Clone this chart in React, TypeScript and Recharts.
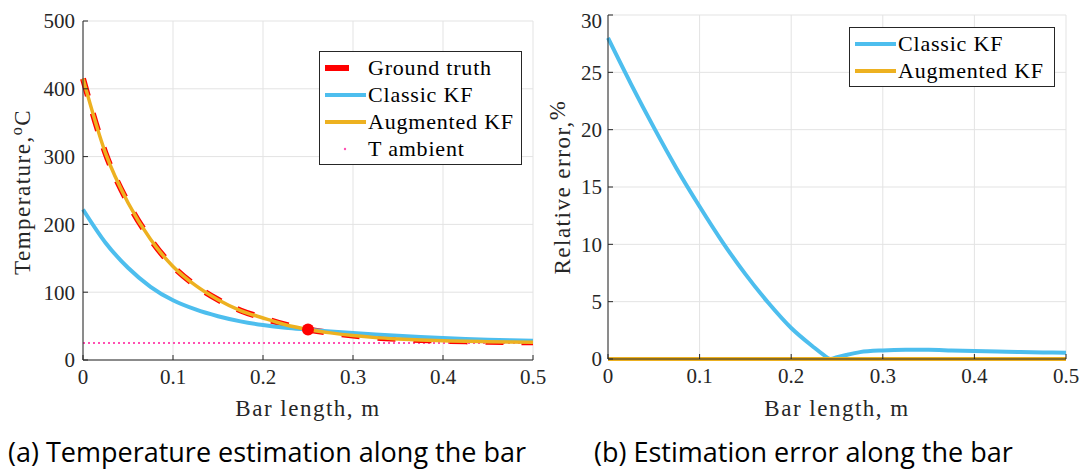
import { LineChart, Line, XAxis, YAxis, CartesianGrid, Legend, ReferenceLine, ReferenceDot } from "recharts";

// left panel: temperature along the bar
const barX = [0, 0.025, 0.05, 0.075, 0.1, 0.125, 0.15, 0.175, 0.2, 0.225, 0.25, 0.275, 0.3, 0.325, 0.35, 0.375, 0.4, 0.425, 0.45, 0.475, 0.5];
const groundTruth = [415, 305, 232, 178, 138, 110, 89, 73, 62, 52, 45, 40, 36, 33, 31, 29.5, 28.5, 27.5, 27, 26.5, 26];
const classicKF = [222, 173, 136, 108, 88, 74.5, 64.5, 57, 51.5, 47.5, 44.8, 42.2, 39.8, 37.6, 35.6, 33.9, 32.4, 31.1, 30, 29.1, 28.4];
const augmentedKF = [415, 305, 232, 178, 138, 110, 89, 73, 62, 52, 45, 40, 36, 33, 31, 29.5, 28.5, 27.5, 27, 26.5, 26];
const tAmbient = 25;
const sensorPoint = { x: 0.25, y: 45 };

// right panel: relative error
const errX = [0, 0.025, 0.05, 0.075, 0.1, 0.125, 0.15, 0.175, 0.2, 0.225, 0.235, 0.243, 0.25, 0.26, 0.275, 0.3, 0.325, 0.35, 0.375, 0.4, 0.425, 0.45, 0.475, 0.5];
const classicErr = [28, 24, 20.2, 16.6, 13.3, 10.2, 7.4, 4.9, 2.7, 1.0, 0.38, 0, 0.15, 0.35, 0.6, 0.75, 0.8, 0.8, 0.75, 0.7, 0.65, 0.6, 0.57, 0.55];
const augmentedErr = [0, 0, 0, 0, 0, 0, 0, 0, 0, 0, 0, 0, 0, 0, 0, 0, 0, 0, 0, 0, 0, 0, 0, 0];

const xTicks = [0, 0.1, 0.2, 0.3, 0.4, 0.5];
const tempTicks = [0, 100, 200, 300, 400, 500];
const errTicks = [0, 5, 10, 15, 20, 25, 30];

const tempData = barX.map((x, i) => ({ x, truth: groundTruth[i], classic: classicKF[i], augmented: augmentedKF[i] }));
const errData = errX.map((x, i) => ({ x, classic: classicErr[i], augmented: augmentedErr[i] }));

const BLUE = "#4DBEEE";
const ORANGE = "#EDB120";
const RED = "#FF0000";
const PINK = "#FF4FB3";
const AX = "#262626";
const SERIF = "'Liberation Serif', serif";
const tickStyle = { fill: AX, fontSize: 21, fontFamily: SERIF };

type Item = { label: string; color: string; kind: "line" | "thick" | "dot" };

function LegendBox({ items, width }: { items: Item[]; width: number }) {
  return (
    <div style={{ border: `1px solid ${AX}`, background: "#fff", width, padding: "2px 0", fontFamily: SERIF, fontSize: 22, letterSpacing: 0.8, color: "#000", boxSizing: "border-box" }}>
      {items.map((it) => (
        <div key={it.label} style={{ display: "flex", alignItems: "center", height: 27 }}>
          <svg width={42} height={10} style={{ marginLeft: 4, marginRight: 2 }}>
            {it.kind === "dot" ? (
              <circle cx={21} cy={5} r={1.2} fill={PINK} />
            ) : (
              <line x1={1} x2={it.kind === "thick" ? 25 : 42} y1={5} y2={5} stroke={it.color} strokeWidth={it.kind === "thick" ? 6 : 4} />
            )}
          </svg>
          <span>{it.label}</span>
        </div>
      ))}
    </div>
  );
}

export default function App() {
  return (
    <div style={{ position: "relative", width: 1080, height: 467, background: "#fff" }}>
      <div style={{ position: "absolute", left: 0, top: 0 }}>
        <LineChart width={545} height={420} data={tempData} margin={{ top: 13, right: 20, bottom: 0, left: 0 }}>
          <CartesianGrid stroke="#e3e3e3" strokeWidth={1} />
          <XAxis dataKey="x" type="number" domain={[0, 0.5]} ticks={xTicks} height={68} stroke={AX} tickSize={-5} tickMargin={14} tick={tickStyle} tickFormatter={(v) => String(v)} />
          <YAxis type="number" domain={[0, 500]} ticks={tempTicks} width={75} stroke={AX} tickSize={-5} tickMargin={13} tick={tickStyle} />
          <ReferenceLine y={tAmbient} stroke={PINK} strokeWidth={2} strokeDasharray="2 3" />
          <Line dataKey="truth" type="monotone" stroke={RED} strokeWidth={6} strokeDasharray="18 18" dot={false} isAnimationActive={false} />
          <Line dataKey="classic" type="monotone" stroke={BLUE} strokeWidth={4} dot={false} isAnimationActive={false} />
          <Line dataKey="augmented" type="monotone" stroke={ORANGE} strokeWidth={3.5} dot={false} isAnimationActive={false} />
          <ReferenceDot x={sensorPoint.x} y={sensorPoint.y} r={6} fill={RED} stroke="none" />
          <Legend
            layout="vertical"
            align="center"
            verticalAlign="middle"
            wrapperStyle={{ position: "absolute", left: 311, top: 43, width: "auto", height: "auto" }}
            content={() => (
              <LegendBox
                width={203}
                items={[
                  { label: "Ground truth", color: RED, kind: "thick" },
                  { label: "Classic KF", color: BLUE, kind: "line" },
                  { label: "Augmented KF", color: ORANGE, kind: "line" },
                  { label: "T ambient", color: PINK, kind: "dot" },
                ]}
              />
            )}
          />
        </LineChart>
      </div>
      <div style={{ position: "absolute", left: 545, top: 0 }}>
        <LineChart width={530} height={420} data={errData} margin={{ top: 7, right: 17, bottom: 0, left: 0 }}>
          <CartesianGrid stroke="#e3e3e3" strokeWidth={1} />
          <XAxis dataKey="x" type="number" domain={[0, 0.5]} ticks={xTicks} height={69} stroke={AX} tickSize={-5} tickMargin={14} tick={tickStyle} tickFormatter={(v) => String(v)} />
          <YAxis type="number" domain={[0, 30]} ticks={errTicks} width={55} stroke={AX} tickSize={-5} tickMargin={11} tick={tickStyle} />
          <Line dataKey="classic" type="monotone" stroke={BLUE} strokeWidth={4} dot={false} isAnimationActive={false} />
          <Line dataKey="augmented" type="monotone" stroke={ORANGE} strokeWidth={4} dot={false} isAnimationActive={false} />
          <Legend
            layout="vertical"
            align="center"
            verticalAlign="middle"
            wrapperStyle={{ position: "absolute", left: 296, top: 19, width: "auto", height: "auto" }}
            content={() => (
              <LegendBox
                width={206}
                items={[
                  { label: "Classic KF", color: BLUE, kind: "line" },
                  { label: "Augmented KF", color: ORANGE, kind: "line" },
                ]}
              />
            )}
          />
        </LineChart>
      </div>
      <svg width={1080} height={467} style={{ position: "absolute", left: 0, top: 0, pointerEvents: "none" }}>
        <g fontFamily={SERIF} fontSize={23} letterSpacing={1.5} fill="#262626">
          <text x={300} y={408} textAnchor="middle">Bar length, m</text>
          <text x={829} y={408} textAnchor="middle">Bar length, m</text>
          <text transform="translate(22,184) rotate(-90)" textAnchor="middle">
            Temperature,<tspan dy={-8} fontSize={16}>o</tspan><tspan dy={8}>C</tspan>
          </text>
          <text transform="translate(562,179) rotate(-90)" textAnchor="middle">
            Relative error,<tspan dy={-5}>%</tspan>
          </text>
        </g>
        <g fontFamily="'Open Sans', sans-serif" fontSize={27} fill="#000">
          <text x={0} y={454}>(a) Temperature estimation along the bar</text>
          <text x={586} y={454}>(b) Estimation error along the bar</text>
        </g>
      </svg>
    </div>
  );
}
